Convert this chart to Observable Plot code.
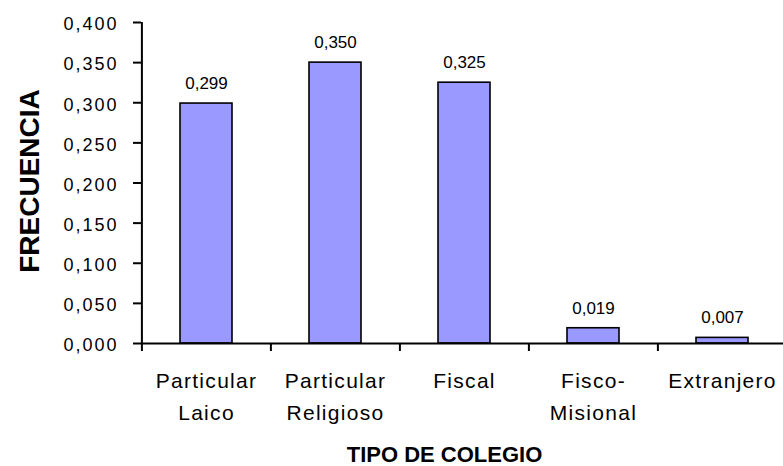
<!DOCTYPE html>
<html>
<head>
<meta charset="utf-8">
<script src="https://cdn.jsdelivr.net/npm/d3@7"></script>
<script src="https://cdn.jsdelivr.net/npm/@observablehq/plot@0.6"></script>
<style>
  html, body { margin: 0; padding: 0; background: #ffffff; }
  .chart { display: block; }
  .chart g[aria-label="y-axis tick label"] text { letter-spacing: 2px; }
  .chart g[aria-label="x-axis tick label"] text { letter-spacing: 1.3px; }
</style>
</head>
<body>
<div id="chart"></div>
<script>
// ---- data ----
const categories = ["Particular\nLaico", "Particular\nReligioso", "Fiscal", "Fisco-\nMisional", "Extranjero"];
const frequencies = [0.299, 0.350, 0.325, 0.019, 0.007];
const yTicks = [0, 0.05, 0.10, 0.15, 0.20, 0.25, 0.30, 0.35, 0.40];
const xTitle = "TIPO DE COLEGIO";
const yTitle = "FRECUENCIA";

const data = categories.map((c, i) => ({category: c, frequency: frequencies[i]}));
const fmt = d => d3.format(".3f")(d).replace(".", ",");

// ---- layout ----
const W = 783, H = 466;
const mLeft = 141, mTop = 22, mBottom = 123;
const xRange = [141, 787];
const step = (xRange[1] - xRange[0]) / categories.length;
const font = "'Liberation Sans', Arial, sans-serif";

const chart = Plot.plot({
  width: W,
  height: H,
  marginLeft: mLeft,
  marginRight: 0,
  marginTop: mTop,
  marginBottom: mBottom,
  className: "chart",
  style: {fontFamily: font, background: "#ffffff", color: "#000000", overflow: "visible"},
  x: {domain: categories, range: xRange, paddingInner: 0.6, paddingOuter: 0.3, axis: null, label: null},
  y: {domain: [0, 0.4], axis: null, label: null},
  marks: [
    Plot.barY(data, {x: "category", y: "frequency", fill: "#9999FF", stroke: "#000000", strokeWidth: 1.6}),
    Plot.text(data, {x: "category", y: "frequency", text: d => fmt(d.frequency), dy: -20, fontSize: 17, fill: "#000000"}),
    // y axis line
    Plot.ruleX([categories[0]], {y1: 0, y2: 0.4, dx: -step / 2, stroke: "#000000", strokeWidth: 2}),
    // y ticks and labels
    Plot.axisY({ticks: yTicks, tickSize: 8, text: null, strokeWidth: 2, label: null}),
    Plot.axisY({ticks: yTicks, tickSize: 0, tickPadding: 23, tickFormat: fmt, fontSize: 18, dy: 2, label: null}),
    // x axis line
    Plot.ruleY([0], {stroke: "#000000", strokeWidth: 2}),
    // category boundary ticks
    Plot.axisX({tickSize: 8, text: null, dx: -step / 2, strokeWidth: 2, label: null}),
    // category labels
    Plot.axisX({tickSize: 0, tickPadding: 21.5, fontSize: 21, lineHeight: 1.52, label: null}),
    // titles
    Plot.text([xTitle], {frameAnchor: "bottom", lineAnchor: "middle", textAnchor: "middle", dx: -18, dy: 111.5, fontSize: 22, fontWeight: "bold", fill: "#000000"}),
    Plot.text([yTitle], {frameAnchor: "left", lineAnchor: "middle", textAnchor: "middle", rotate: -90, dx: -111, dy: -2, fontSize: 28, fontWeight: "bold", fill: "#000000"})
  ]
});
document.getElementById("chart").appendChild(chart);
</script>
</body>
</html>
